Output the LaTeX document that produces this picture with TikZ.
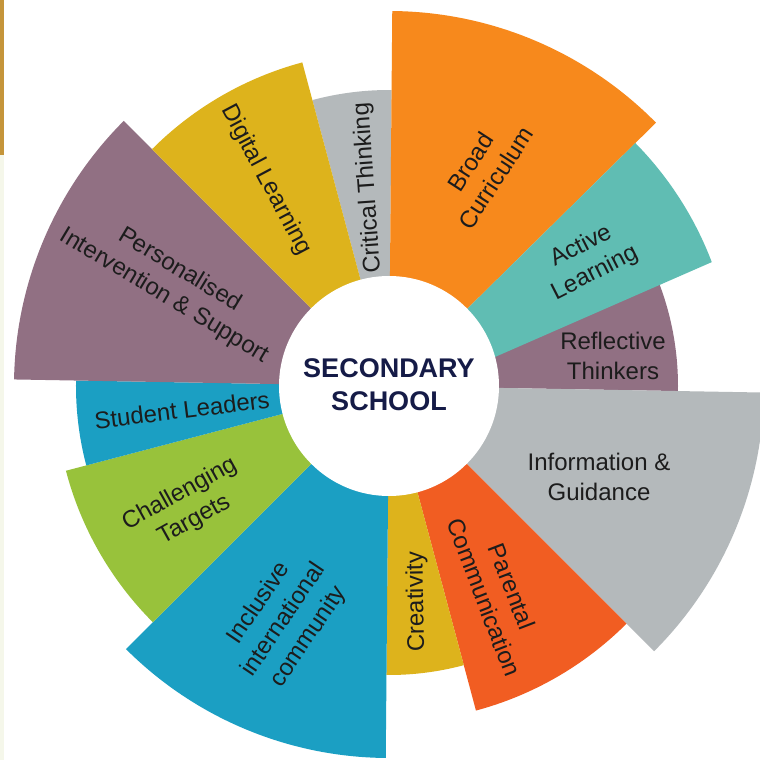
\documentclass[tikz,border=0pt]{standalone}
\usepackage{fontspec}
\setmainfont{Liberation Sans}
\definecolor{cOrange}{HTML}{F7891C}
\definecolor{cTeal}{HTML}{60BDB3}
\definecolor{cMauve}{HTML}{917083}
\definecolor{cGray}{HTML}{B4B9BB}
\definecolor{cRed}{HTML}{F15D22}
\definecolor{cMustard}{HTML}{DDB31C}
\definecolor{cBlue}{HTML}{1B9FC3}
\definecolor{cGreen}{HTML}{98C23B}
\definecolor{cNavy}{HTML}{151B47}
\definecolor{cGold}{HTML}{C5953A}
\definecolor{cCream}{HTML}{F5F7EA}
\definecolor{cText}{HTML}{1C1C1C}
\newcommand{\wedgefill}[4]{\fill[#1] (0,0) -- (#2:#4) arc[start angle=#2, end angle=#3, radius=#4] -- cycle;}
\begin{document}
\begin{tikzpicture}[x=0.5pt,y=0.5pt,
  lbl/.style={text=cText, align=center, inner sep=0pt, font=\fontsize{12}{15}\selectfont},
  hub/.style={text=cNavy, align=center, inner sep=0pt, font=\fontsize{13.5}{16.5}\selectfont\bfseries}]
\useasboundingbox (-389,-374) rectangle (371,386);
\fill[white] (-389,-374) rectangle (371,386);
\fill[cGold] (-389,231) rectangle (-385,386);
\fill[cCream] (-389,-374) rectangle (-385,231);
% wedges
\wedgefill{cGray}{105}{89.5}{296}
\wedgefill{cOrange}{89.5}{44.6}{375}
\wedgefill{cMauve}{30}{-1}{289}
\fill[cTeal] (0,0) -- (44.6:346) arc[start angle=44.6, end angle=20.8, radius=343] -- (106,29) -- cycle;
\wedgefill{cGray}{-1}{-45}{375}
\wedgefill{cRed}{-45}{-75}{336}
\wedgefill{cMustard}{-75}{-90.5}{289}
\wedgefill{cBlue}{-90.5}{-135}{372}
\wedgefill{cGreen}{-135}{-165.3}{334}
\wedgefill{cBlue}{-165.3}{-181}{313}
\wedgefill{cMauve}{-181}{-225}{375}
\wedgefill{cMustard}{-225}{-255}{335}
\fill[white] (0,0) circle[radius=110];
% labels
\node[hub] (hubtext) at (0,1) {SECONDARY\\SCHOOL};
\node[lbl, rotate=94] (crit) at (-21,198) {Critical Thinking};
\node[lbl, rotate=-62] (digi) at (-123,206) {Digital Learning};
\node[lbl, rotate=-31] (pers) at (-217,103) {Personalised\\Intervention \& Support};
\node[lbl, rotate=7] (stud) at (-207,-24) {Student Leaders};
\node[lbl, rotate=29] (chal) at (-202,-121) {Challenging\\Targets};
\node[lbl, rotate=56] (incl) at (-105,-234) {Inclusive\\international\\community};
\node[lbl, rotate=91] (crea) at (28,-216) {Creativity};
\node[lbl, rotate=-69] (pare) at (109,-206) {Parental\\Communication};
\node[lbl] (info) at (210,-91) {Information \&\\Guidance};
\node[lbl] (refl) at (224,30) {Reflective\\Thinkers};
\node[lbl, rotate=27] (acti) at (199,126) {Active\\Learning};
\node[lbl, rotate=57] (broa) at (94,216) {Broad\\Curriculum};
\end{tikzpicture}
\end{document}
